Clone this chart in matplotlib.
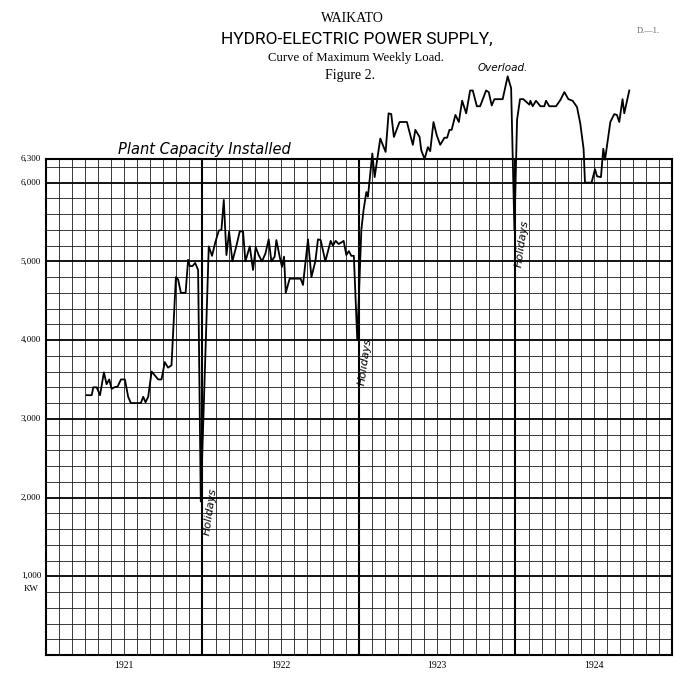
import numpy as np
import matplotlib.pyplot as plt

# weekly max load (x in decimal years, y in kW)
yr = [1921.26, 1921.292, 1921.302, 1921.324, 1921.345, 1921.370, 1921.387, 1921.404,
      1921.419, 1921.436, 1921.458, 1921.479, 1921.504, 1921.525, 1921.542, 1921.606,
      1921.621, 1921.636, 1921.653, 1921.675, 1921.696, 1921.717, 1921.738, 1921.759,
      1921.780, 1921.802, 1921.830, 1921.844, 1921.862, 1921.892, 1921.908, 1921.919,
      1921.936, 1921.953, 1921.972, 1921.989,
      1922.040, 1922.061, 1922.083, 1922.104, 1922.121, 1922.136, 1922.153, 1922.170,
      1922.191, 1922.217, 1922.238, 1922.259, 1922.274, 1922.302, 1922.323, 1922.340,
      1922.359, 1922.380, 1922.402, 1922.423, 1922.440, 1922.461, 1922.472, 1922.493,
      1922.508, 1922.521, 1922.532, 1922.557, 1922.627, 1922.642, 1922.674, 1922.696,
      1922.721, 1922.738, 1922.755, 1922.785, 1922.819, 1922.833, 1922.851, 1922.870,
      1922.887, 1922.902, 1922.919, 1922.935, 1922.951, 1922.967, 1922.989,
      1923.015, 1923.029, 1923.047, 1923.057, 1923.085, 1923.100, 1923.136, 1923.170,
      1923.189, 1923.206, 1923.223, 1923.259, 1923.306, 1923.344, 1923.360, 1923.387,
      1923.398, 1923.419, 1923.440, 1923.455, 1923.476, 1923.497, 1923.519, 1923.546,
      1923.563, 1923.578, 1923.592, 1923.616, 1923.638, 1923.659, 1923.685, 1923.710,
      1923.727, 1923.753, 1923.774, 1923.812, 1923.829, 1923.848, 1923.865, 1923.918,
      1923.950, 1923.972, 1923.993,
      1924.010, 1924.029, 1924.050, 1924.089, 1924.095, 1924.110, 1924.131, 1924.159,
      1924.184, 1924.195, 1924.216, 1924.259, 1924.287, 1924.312, 1924.338, 1924.365,
      1924.393, 1924.414, 1924.435, 1924.444, 1924.486, 1924.508, 1924.521, 1924.546,
      1924.561, 1924.572, 1924.606, 1924.631, 1924.648, 1924.663, 1924.684, 1924.695,
      1924.727]
kw = [3300, 3300, 3400, 3400, 3300, 3590, 3440, 3500,
      3380, 3400, 3410, 3500, 3500, 3280, 3200, 3200,
      3280, 3210, 3280, 3600, 3550, 3500, 3500, 3720,
      3650, 3680, 4800, 4770, 4600, 4600, 5020, 4940,
      4940, 4980, 4890, 1950,
      5190, 5070, 5250, 5390, 5400, 5780, 5080, 5380,
      5000, 5200, 5380, 5380, 5000, 5190, 4890, 5180,
      5080, 5000, 5100, 5280, 5000, 5060, 5270, 5060,
      4930, 5060, 4600, 4780, 4780, 4700, 5280, 4800,
      5000, 5280, 5270, 5000, 5260, 5200, 5260, 5220,
      5240, 5260, 5080, 5130, 5070, 5070, 4000,
      5400, 5650, 5880, 5820, 6370, 6070, 6560, 6390,
      6880, 6870, 6580, 6770, 6770, 6480, 6670, 6580,
      6410, 6300, 6450, 6400, 6770, 6600, 6480, 6570,
      6570, 6670, 6670, 6860, 6770, 7040, 6880, 7170,
      7170, 6970, 6970, 7170, 7150, 6980, 7060, 7060,
      7350, 7200, 5400,
      6800, 7060, 7060, 6990, 7040, 6970, 7040, 6970,
      6970, 7040, 6970, 6970, 7050, 7150, 7060, 7040,
      6960, 6750, 6430, 6000, 6000, 6170, 6080, 6070,
      6430, 6290, 6770, 6870, 6860, 6770, 7060, 6880,
      7170]

years = ['1921', '1922', '1923', '1924']
ytick_vals = [1000, 2000, 3000, 4000, 5000, 6000, 6300]
ytick_labels = ['1,000', '2,000', '3,000', '4,000', '5,000', '6,000', '6,300']
holidays = [(1922.047, 1820), (1923.04, 3720), (1924.04, 5230)]

serif = ['Liberation Serif', 'DejaVu Serif']
hand = ['DejaVu Sans']

fig = plt.figure(figsize=(7, 6.93), dpi=100)
ax = fig.add_axes([46/700, 38/693, 626/700, 496/693])
ax.set_xlim(1921, 1925)
ax.set_ylim(0, 6300)

# graph paper
for m in np.arange(1921, 1925, 1/12):
    heavy = abs(m - round(m)) < 1e-6 and m > 1921
    ax.axvline(m, color='black' if heavy else '#1a1a1a', lw=1.5 if heavy else 0.6, zorder=1)
for v in np.arange(200, 6300, 200):
    heavy = v % 1000 == 0
    ax.axhline(v, color='black' if heavy else '#1a1a1a', lw=1.3 if heavy else 0.6, zorder=1)

ax.plot(yr, kw, color='black', lw=1.3, clip_on=False, zorder=3)

for s in ax.spines.values():
    s.set_linewidth(1.5)

ax.set_xticks([1921.5, 1922.5, 1923.5, 1924.5])
ax.set_xticklabels(years, family=serif, fontsize=7)
ax.tick_params(axis='x', length=0, pad=4)
ax.set_yticks([])

for v, lab in zip(ytick_vals, ytick_labels):
    ax.text(-0.008, v, lab, transform=ax.get_yaxis_transform(), ha='right',
            va='center', family=serif, fontsize=6.5)
ax.text(-0.024, 1000 - 110, 'KW', transform=ax.get_yaxis_transform(), ha='center',
        va='top', family=serif, fontsize=6.5)

# annotations
ax.text(1921.46, 6330, 'Plant Capacity Installed', family=hand, style='italic',
        fontsize=10.5, ha='left', va='bottom', clip_on=False)
ax.text(1923.92, 7390, 'Overload.', family=hand, style='italic', fontsize=7.5,
        ha='center', va='bottom', clip_on=False)
for x, y in holidays:
    ax.text(x, y, 'Holidays', family=hand, style='italic', fontsize=8,
            rotation=82, ha='center', va='center')

# titles
fig.text(352/700, 1 - 18/693, 'WAIKATO', family=serif, fontsize=10, ha='center', va='center')
fig.text(357/700, 1 - 39/693, 'HYDRO-ELECTRIC POWER SUPPLY,',
         family=['Roboto', 'DejaVu Sans'], fontsize=12.5, ha='center', va='center')
fig.text(356/700, 1 - 58/693, 'Curve of Maximum Weekly Load.', family=serif, fontsize=9.2,
         ha='center', va='center')
fig.text(350/700, 1 - 76/693, 'Figure 2.', family=serif, fontsize=10, ha='center', va='center')
fig.text(648/700, 1 - 31/693, 'D.—1.', family=serif, fontsize=6, color='#666666',
         ha='center', va='center')

fig.savefig('out.png', dpi=100)
